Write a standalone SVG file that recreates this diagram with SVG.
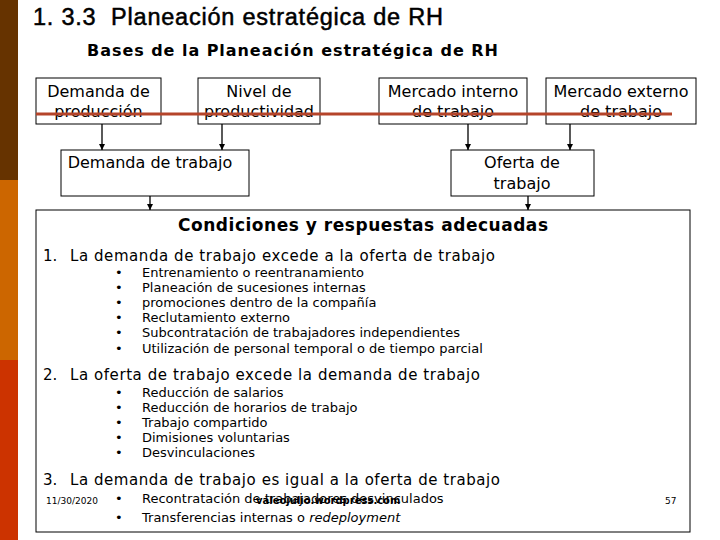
<svg xmlns="http://www.w3.org/2000/svg" width="720" height="540" viewBox="0 0 720 540">
<style>
.box{fill:#fff;stroke:#000;stroke-width:1}
.bt{font-family:"DejaVu Sans",sans-serif;font-size:16px;fill:#000;text-anchor:middle}
.h{font-family:"DejaVu Sans",sans-serif;font-size:15px;fill:#000}
.li{font-family:"DejaVu Sans",sans-serif;font-size:13px;fill:#000}
.con{stroke:#000;stroke-width:1.3;fill:none;marker-end:url(#ah)}
</style>
<defs>
<marker id="ah" viewBox="0 0 10 10" refX="10" refY="5" markerWidth="6" markerHeight="6" orient="auto" markerUnits="userSpaceOnUse">
<path d="M0,0 L10,5 L0,10 z" fill="#000"/>
</marker>
</defs>
<rect width="720" height="540" fill="#fff"/>
<g id="sidebar">
<rect x="0" y="0" width="18" height="180" fill="#663300"/>
<rect x="0" y="180" width="18" height="180" fill="#CC6600"/>
<rect x="0" y="360" width="18" height="180" fill="#CC3300"/>
</g>
<text x="33" y="25" font-family="Liberation Sans, Arial, sans-serif" font-size="23.5" fill="#000" stroke="#000" stroke-width="0.5" textLength="410" lengthAdjust="spacing" xml:space="preserve">1. 3.3  Planeación estratégica de RH</text>
<text x="87" y="56" font-family="DejaVu Sans, sans-serif" font-weight="bold" font-size="16" fill="#000" textLength="411" lengthAdjust="spacing">Bases de la Planeación estratégica de RH</text>

<g id="connectors">
<line class="con" x1="102" y1="124" x2="102" y2="150"/>
<line class="con" x1="222" y1="124" x2="222" y2="150"/>
<line class="con" x1="468" y1="124" x2="468" y2="150"/>
<line class="con" x1="570" y1="124" x2="570" y2="150"/>
<line class="con" x1="150" y1="196" x2="150" y2="210"/>
<line class="con" x1="528" y1="196" x2="528" y2="210"/>
</g>

<g id="n1"><rect class="box" x="36" y="78" width="125" height="46"/><text class="bt" x="98.5" y="97">Demanda de</text><text class="bt" x="98.5" y="117">producción</text></g>
<g id="n2"><rect class="box" x="198" y="78" width="122" height="46"/><text class="bt" x="259" y="97">Nivel de</text><text class="bt" x="259" y="117">productividad</text></g>
<g id="n3"><rect class="box" x="379" y="78" width="148" height="46"/><text class="bt" x="453" y="97">Mercado interno</text><text class="bt" x="453" y="117">de trabajo</text></g>
<g id="n4"><rect class="box" x="546" y="78" width="150" height="46"/><text class="bt" x="621" y="97">Mercado externo</text><text class="bt" x="621" y="117">de trabajo</text></g>
<line x1="36" y1="114" x2="672" y2="114" stroke="#B5442A" stroke-width="3"/>

<g id="n5"><rect class="box" x="61" y="150" width="188" height="46"/><text class="bt" x="150" y="168">Demanda de trabajo</text></g>
<g id="n6"><rect class="box" x="451" y="150" width="143" height="46"/><text class="bt" x="522" y="168">Oferta de</text><text class="bt" x="522" y="189">trabajo</text></g>

<g id="n7">
<rect class="box" x="36" y="210" width="654" height="322"/>
<text x="178" y="231" font-family="DejaVu Sans, sans-serif" font-weight="bold" font-size="17" fill="#000" textLength="370" lengthAdjust="spacing">Condiciones y respuestas adecuadas</text>
<text class="h" x="43" y="261">1.</text><text class="h" x="70" y="261" textLength="425" lengthAdjust="spacing">La demanda de trabajo excede a la oferta de trabajo</text>
<g class="li">
<text x="115" y="277">•</text><text x="142" y="277">Entrenamiento o reentranamiento</text>
<text x="115" y="292">•</text><text x="142" y="292">Planeación de sucesiones internas</text>
<text x="115" y="307">•</text><text x="142" y="307">promociones dentro de la compañía</text>
<text x="115" y="322">•</text><text x="142" y="322">Reclutamiento externo</text>
<text x="115" y="337">•</text><text x="142" y="337">Subcontratación de trabajadores independientes</text>
<text x="115" y="353">•</text><text x="142" y="353">Utilización de personal temporal o de tiempo parcial</text>
</g>
<text class="h" x="43" y="380">2.</text><text class="h" x="70" y="380" textLength="410" lengthAdjust="spacing">La oferta de trabajo excede la demanda de trabajo</text>
<g class="li">
<text x="115" y="397">•</text><text x="142" y="397">Reducción de salarios</text>
<text x="115" y="412">•</text><text x="142" y="412">Reducción de horarios de trabajo</text>
<text x="115" y="427">•</text><text x="142" y="427">Trabajo compartido</text>
<text x="115" y="442">•</text><text x="142" y="442">Dimisiones voluntarias</text>
<text x="115" y="457">•</text><text x="142" y="457">Desvinculaciones</text>
</g>
<text class="h" x="43" y="485">3.</text><text class="h" x="70" y="485" textLength="430" lengthAdjust="spacing">La demanda de trabajo es igual a la oferta de trabajo</text>
<g class="li">
<text x="115" y="503">•</text><text x="142" y="503">Recontratación de trabajadores desvinculados</text>
<text x="115" y="522">•</text><text x="142" y="522">Transferencias internas o <tspan font-style="italic">redeployment</tspan></text>
</g>
</g>
<g id="footer" font-family="DejaVu Sans, sans-serif" fill="#000">
<text x="46" y="504" font-size="9">11/30/2020</text>
<text x="256" y="504" font-size="10" font-weight="bold">valeojulio.wordpress.com</text>
<text x="665" y="504" font-size="9">57</text>
</g>
</svg>
